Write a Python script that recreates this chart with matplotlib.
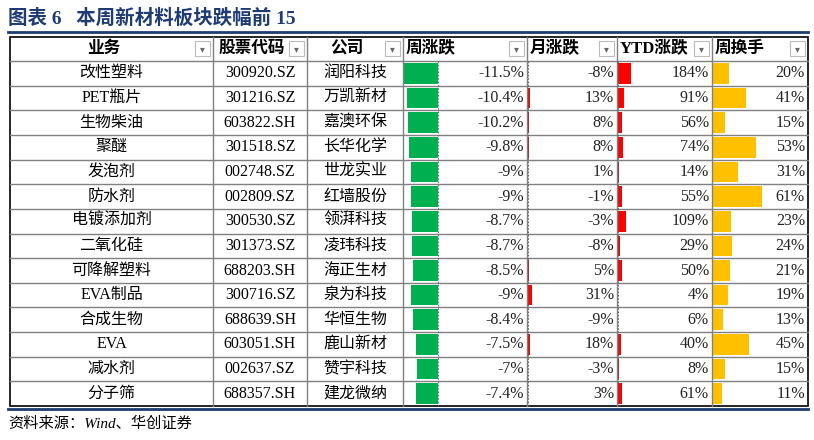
import matplotlib.pyplot as plt
from matplotlib.patches import Rectangle

plt.rcParams['font.family'] = ['Liberation Serif', 'Noto Sans CJK SC']

# 데이터
business = ['改性塑料', 'PET瓶片', '生物柴油', '聚醚', '发泡剂', '防水剂', '电镀添加剂', '二氧化硅',
            '可降解塑料', 'EVA制品', '合成生物', 'EVA', '减水剂', '分子筛']
codes = ['300920.SZ', '301216.SZ', '603822.SH', '301518.SZ', '002748.SZ', '002809.SZ', '300530.SZ',
         '301373.SZ', '688203.SH', '300716.SZ', '688639.SH', '603051.SH', '002637.SZ', '688357.SH']
companies = ['润阳科技', '万凯新材', '嘉澳环保', '长华化学', '世龙实业', '红墙股份', '领湃科技', '凌玮科技',
             '海正生材', '泉为科技', '华恒生物', '鹿山新材', '赞宇科技', '建龙微纳']
week = [-11.5, -10.4, -10.2, -9.8, -9, -9, -8.7, -8.7, -8.5, -9, -8.4, -7.5, -7, -7.4]
week_lbl = ['-11.5%', '-10.4%', '-10.2%', '-9.8%', '-9%', '-9%', '-8.7%', '-8.7%', '-8.5%', '-9%',
            '-8.4%', '-7.5%', '-7%', '-7.4%']
month = [-8, 13, 8, 8, 1, -1, -3, -8, 5, 31, -9, 18, -3, 3]
ytd = [184, 91, 56, 74, 14, 55, 109, 29, 50, 4, 6, 40, 8, 61]
turnover = [20, 41, 15, 53, 31, 61, 23, 24, 21, 19, 13, 45, 15, 11]
headers = ['业务', '股票代码', '公司', '周涨跌', '月涨跌', 'YTD涨跌', '周换手']

cols = [10, 213, 307, 403, 527, 617, 712, 808]
top, hdr_h, row_h = 37, 24, 24.65

fig = plt.figure(figsize=(8.14, 4.40), dpi=100)
ax = fig.add_axes([0, 0, 1, 1])
ax.set_xlim(0, 814)
ax.set_ylim(440, 0)
ax.axis('off')

navy = '#1F3B73'
ax.text(8, 18, '图表 6   本周新材料板块跌幅前 15', fontsize=14, fontweight='bold', color=navy, va='center')
ax.plot([8, 808], [32, 32], color=navy, lw=2)

# 헤더
bottom = top + hdr_h + row_h * len(business)
ax.add_patch(Rectangle((cols[0], top), cols[-1] - cols[0], bottom - top, fill=False, lw=1.2, ec='black'))
for i, h in enumerate(headers):
    x0, x1 = cols[i], cols[i + 1]
    if i < 3:
        ax.text((x0 + x1) / 2 - 8, top + hdr_h / 2, h, ha='center', va='center', fontsize=12, fontweight='bold')
    else:
        ax.text(x0 + 3, top + hdr_h / 2, h, ha='left', va='center', fontsize=12, fontweight='bold')
    ax.add_patch(Rectangle((x1 - 18, top + 4), 15, 15, fc='white', ec='#BBBBBB', lw=0.8))
    ax.text(x1 - 10.5, top + 12, '▾', ha='center', va='center', fontsize=7, color='#666666',
            family='DejaVu Sans')
    if i > 0:
        ax.plot([x0, x0], [top, bottom], color='#808080', lw=1)

# 행
def bar_len(v, vmax, width):
    return abs(v) / vmax * width

for r in range(len(business)):
    y0 = top + hdr_h + r * row_h
    yc = y0 + row_h / 2
    ax.plot([cols[0], cols[-1]], [y0, y0], color='#808080', lw=1)
    ax.text((cols[0] + cols[1]) / 2, yc, business[r], ha='center', va='center', fontsize=11.5)
    ax.text((cols[1] + cols[2]) / 2, yc, codes[r], ha='center', va='center', fontsize=11.5)
    ax.text((cols[2] + cols[3]) / 2, yc, companies[r], ha='center', va='center', fontsize=11.5)
    bh = row_h - 4
    # 주간 등락 (음수, 오른쪽 축에서 왼쪽으로)
    axis_w = cols[3] + 35
    L = bar_len(week[r], 11.5, 34)
    ax.barh(yc, -L, left=axis_w, height=bh, color='#00B050')
    ax.text(cols[4] - 3, yc, week_lbl[r], ha='right', va='center', fontsize=11.5, color='#222222')
    # 월간
    axis_m = cols[4] + 1
    c = '#FF0000' if month[r] > 0 else '#00B050'
    ax.barh(yc, bar_len(month[r], 31, 4) * (1 if month[r] > 0 else -1), left=axis_m, height=bh, color=c)
    ax.text(cols[5] - 3, yc, f'{month[r]}%', ha='right', va='center', fontsize=11.5, color='#222222')
    # YTD
    ax.barh(yc, bar_len(ytd[r], 184, 13), left=cols[5] + 1, height=bh, color='#FF0000')
    ax.text(cols[6] - 3, yc, f'{ytd[r]}%', ha='right', va='center', fontsize=11.5, color='#222222')
    # 换手
    ax.barh(yc, bar_len(turnover[r], 61, 49), left=cols[6] + 1, height=bh, color='#FFC000')
    ax.text(cols[7] - 3, yc, f'{turnover[r]}%', ha='right', va='center', fontsize=11.5, color='#222222')

for x in [cols[3] + 35, cols[4] + 1, cols[5] + 1]:
    ax.plot([x, x], [top + hdr_h, bottom], color='#555555', lw=0.6, ls=(0, (2, 2)))

ax.plot([8, 808], [bottom + 3, bottom + 3], color=navy, lw=2)
ax.text(8, 424, '资料来源：Wind、华创证券', fontsize=11, style='italic', va='center')

fig.savefig('out.png', dpi=100)
